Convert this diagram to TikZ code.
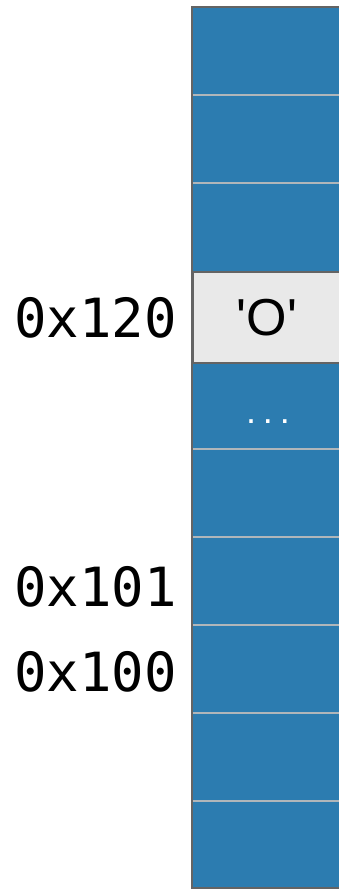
\documentclass[tikz,border=0pt]{standalone}
\usepackage{fontspec}
\setmainfont{Liberation Sans}
\newfontfamily\valfont{Liberation Sans}
\newfontfamily\addrfont{DejaVu Sans Mono}
\begin{document}
\begin{tikzpicture}[x=1pt,y=-1pt,
  divider/.style={draw=divgray,line width=2pt},
  addr/.style={font=\addrfont\fontsize{54}{60}\selectfont,anchor=east,inner sep=0pt},
]
\definecolor{cellblue}{RGB}{44,124,176}
\definecolor{divgray}{RGB}{176,182,186}
\definecolor{bordergray}{RGB}{100,100,100}
\definecolor{lightcell}{RGB}{233,233,233}
\useasboundingbox (0,0) rectangle (338,890);
% blue column background
\fill[cellblue] (192,7) rectangle (340,888);
% dividers
\foreach \yy in {95,183,449,537,625,713,801}
  \draw[divider] (192,\yy) -- (340,\yy);
% highlighted cell
\node[draw=bordergray,line width=2pt,fill=lightcell,minimum width=152pt,minimum height=91pt,anchor=north west,inner sep=0pt] (cell) at (192,271) {};
\node[font=\valfont\fontsize{52}{56}\selectfont,inner sep=0pt] (val) at (267,318) {'O'};
\node[text=white,font=\valfont\fontsize{36}{40}\selectfont,inner sep=0pt] (dots) at (268,422) {.\hspace{7pt}.\hspace{7pt}.};
% outer border (left, top, bottom)
\draw[bordergray,line width=2.5pt] (340,7) -- (192,7) -- (192,888) -- (340,888);
% address labels
\node[addr] (a120) at (177,318) {0x120};
\node[addr] (a101) at (177,587) {0x101};
\node[addr] (a100) at (177,672) {0x100};
\end{tikzpicture}
\end{document}
